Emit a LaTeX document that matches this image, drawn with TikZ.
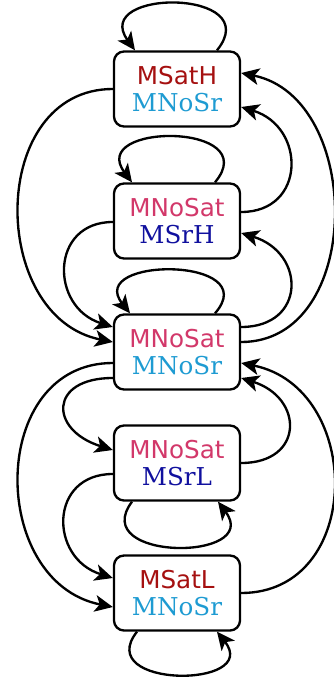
\documentclass[tikz,border=0pt]{standalone}
\usepackage{fontspec}
\setmainfont{DejaVu Serif}
\newfontfamily\statefont{DejaVu Sans}
\usetikzlibrary{arrows.meta,calc}
\definecolor{satcol}{RGB}{165,16,16}
\definecolor{nosatcol}{RGB}{210,56,106}
\definecolor{nosrcol}{RGB}{30,155,210}
\definecolor{srcol}{RGB}{16,16,158}
\newcommand{\mstate}[4]{{\statefont\color{#1}#2}\\{\color{#3}#4}}

\begin{document}
\begin{tikzpicture}[x=0.03cm, y=-0.03cm, >={Stealth[length=5.4mm,width=5mm,inset=1.4mm]}, line width=2pt,
	box/.style={draw, rounded corners=0.3cm, minimum width=3.78cm, minimum height=2.25cm,
		align=center, inner sep=0pt, font=\fontsize{21}{23.5}\selectfont}]
	\useasboundingbox (0,0) rectangle (333,677);
	\node[box] (msath) at (177,89) {\mstate{satcol}{MSatH}{nosrcol}{MNoSr}};
	\node[box] (msrh) at (177,221) {\mstate{nosatcol}{MNoSat}{srcol}{MSrH}};
	\node[box] (nosat) at (177,352) {\mstate{nosatcol}{MNoSat}{nosrcol}{MNoSr}};
	\node[box] (msrl) at (177,463) {\mstate{nosatcol}{MNoSat}{srcol}{MSrL}};
	\node[box] (msatl) at (177,593) {\mstate{satcol}{MSatL}{nosrcol}{MNoSr}};
	% self loops
	\draw[->] ($(msath.north)+(40,0)$) .. controls +(50,-62) and +(-45,-62) .. ($(msath.north)+(-42,0)$);
	\draw[->] ($(msrh.north)+(38,0)$) .. controls +(50,-60) and +(-45,-60) .. ($(msrh.north)+(-45,0)$);
	\draw[->] ($(nosat.north)+(38,0)$) .. controls +(50,-57) and +(-45,-57) .. ($(nosat.north)+(-47,0)$);
	\draw[->] ($(msrl.south)+(-45,0)$) .. controls +(-45,60) and +(45,60) .. ($(msrl.south)+(41,0)$);
	\draw[->] ($(msatl.south)+(-40,0)$) .. controls +(-45,57) and +(45,57) .. ($(msatl.south)+(40,0)$);
	% left side, downwards
	\draw[->] (msath.west) .. controls +(-125,0) and +(-125,-25) .. ($(nosat.west)+(0,-10)$);
	\draw[->] ($(msrh.west)+(0,1)$) .. controls +(-63,0) and +(-63,-20) .. ($(nosat.west)+(0,-25)$);
	\draw[->] ($(nosat.west)+(0,11)$) .. controls +(-125,0) and +(-125,-25) .. ($(msatl.west)+(0,14)$);
	\draw[->] ($(nosat.west)+(0,26)$) .. controls +(-64,0) and +(-64,-20) .. ($(msrl.west)+(0,-13)$);
	\draw[->] ($(msrl.west)+(0,11)$) .. controls +(-64,0) and +(-64,-20) .. ($(msatl.west)+(0,-15)$);
	% right side, upwards
	\draw[->] ($(nosat.east)+(0,-10)$) .. controls +(123,0) and +(123,25) .. ($(msath.east)+(0,-16)$);
	\draw[->] ($(msrh.east)+(0,-9)$) .. controls +(65,0) and +(65,20) .. ($(msath.east)+(0,18)$);
	\draw[->] ($(nosat.east)+(0,-25)$) .. controls +(65,0) and +(65,20) .. ($(msrh.east)+(0,12)$);
	\draw[->] (msrl.east) .. controls +(63,0) and +(63,20) .. ($(nosat.east)+(0,26)$);
	\draw[->] (msatl.east) .. controls +(123,0) and +(123,25) .. ($(nosat.east)+(0,11)$);
\end{tikzpicture}
\end{document}
